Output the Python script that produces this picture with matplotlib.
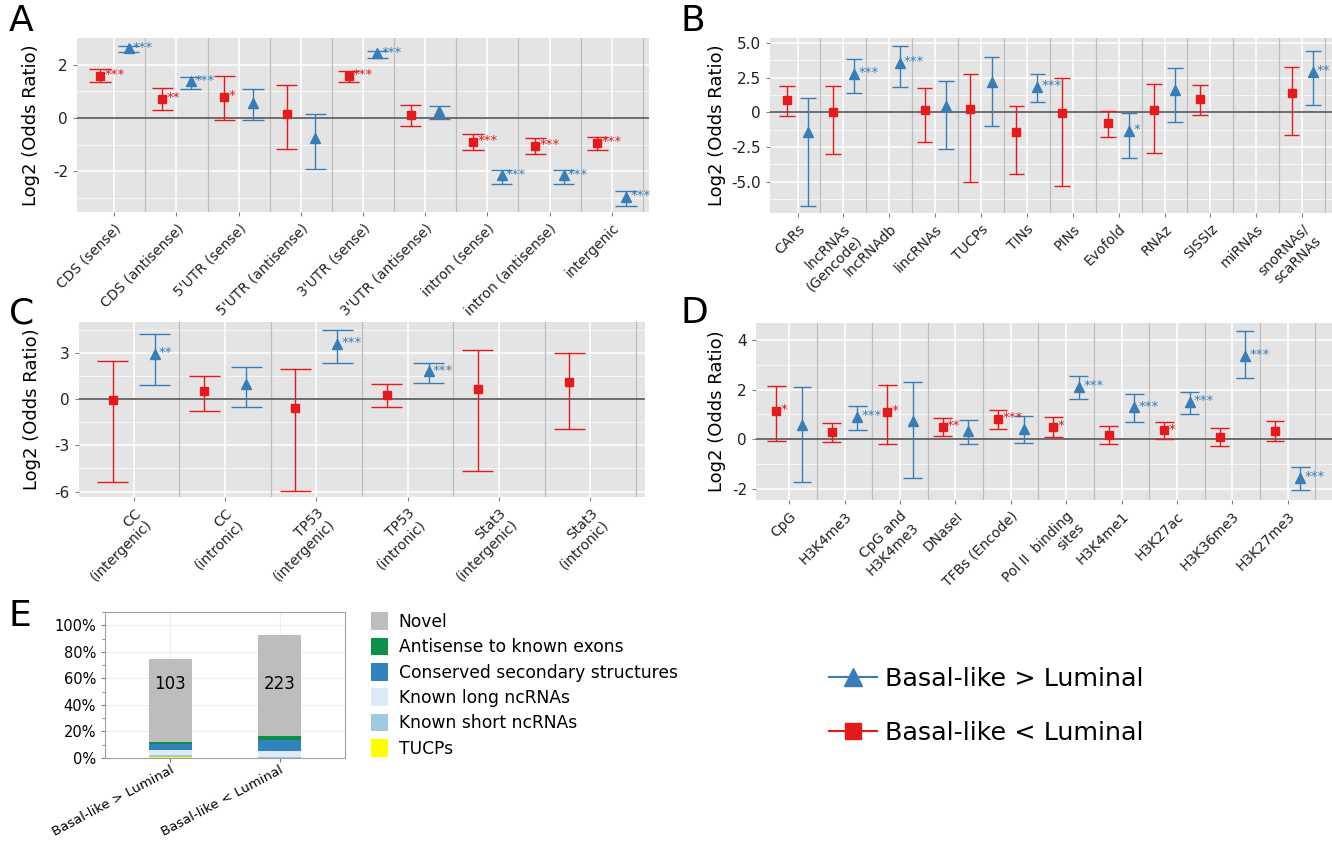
import matplotlib
matplotlib.use("Agg")
import matplotlib.pyplot as plt
import numpy as np
from matplotlib.lines import Line2D
from matplotlib.patches import Patch
from matplotlib.ticker import MultipleLocator

plt.rcParams['axes.unicode_minus'] = False
plt.rcParams['font.family'] = ['DejaVu Sans']

RED = '#E41A1C'
BLUE = '#377EB8'
NA = np.nan

# ---- panel A: genomic location
A_labels = ["CDS (sense)", "CDS (antisense)", "5'UTR (sense)", "5'UTR (antisense)",
            "3'UTR (sense)", "3'UTR (antisense)", "intron (sense)", "intron (antisense)",
            "intergenic"]
A_red = [1.57, 0.71, 0.79, 0.16, 1.57, 0.12, -0.90, -1.05, -0.95]
A_red_lo = [1.33, 0.28, -0.08, -1.15, 1.35, -0.29, -1.19, -1.34, -1.19]
A_red_hi = [1.82, 1.14, 1.57, 1.23, 1.77, 0.50, -0.61, -0.75, -0.71]
A_red_sig = ['***', '**', '*', '', '***', '', '***', '***', '***']
A_blue = [2.61, 1.37, 0.56, -0.75, 2.42, 0.25, -2.16, -2.16, -2.97]
A_blue_lo = [2.46, 1.09, -0.06, -1.93, 2.26, -0.03, -2.47, -2.47, -3.30]
A_blue_hi = [2.71, 1.54, 1.07, 0.13, 2.50, 0.45, -1.94, -1.94, -2.75]
A_blue_sig = ['***', '***', '', '', '***', '', '***', '***', '***']

# ---- panel B: annotations
B_labels = ["CARs", "lncRNAs\n(Gencode)", "lncRNAdb", "lincRNAs", "TUCPs", "TINs", "PINs",
            "Evofold", "RNAz", "SISSIz", "miRNAs", "snoRNAs/\nscaRNAs"]
B_red = [0.91, 0.0, NA, 0.14, 0.22, -1.44, -0.05, -0.77, 0.14, 0.96, NA, 1.37]
B_red_lo = [-0.24, -3.0, NA, -2.14, -5.05, -4.42, -5.34, -1.75, -2.91, -0.19, NA, -1.66]
B_red_hi = [1.88, 1.90, NA, 1.73, 2.74, 0.43, 2.48, 0.10, 2.02, 1.95, NA, 3.25]
B_red_sig = ['', '', '', '', '', '', '', '', '', '', '', '']
B_blue = [-1.44, 2.79, 3.56, 0.43, 2.16, 1.85, NA, -1.37, 1.63, NA, NA, 2.88]
B_blue_lo = [-6.78, 1.37, 1.80, -2.64, -0.99, 0.72, NA, -3.29, -0.72, NA, NA, 0.50]
B_blue_hi = [1.01, 3.82, 4.74, 2.28, 3.99, 2.76, NA, -0.05, 3.17, NA, NA, 4.40]
B_blue_sig = ['', '***', '***', '', '', '***', '', '*', '', '', '', '**']

# ---- panel C: transcription factor binding
C_labels = ["CC\n(intergenic)", "CC\n(intronic)", "TP53\n(intergenic)", "TP53\n(intronic)",
            "Stat3\n(intergenic)", "Stat3\n(intronic)"]
C_red = [-0.04, 0.50, -0.59, 0.26, 0.68, 1.11]
C_red_lo = [-5.38, -0.74, -5.97, -0.50, -4.68, -1.96]
C_red_hi = [2.48, 1.50, 1.92, 0.96, 3.18, 2.96]
C_red_sig = ['', '', '', '', '', '']
C_blue = [2.90, 0.98, 3.55, 1.79, NA, NA]
C_blue_lo = [0.94, -0.54, 2.33, 1.05, NA, NA]
C_blue_hi = [4.25, 2.07, 4.47, 2.35, NA, NA]
C_blue_sig = ['**', '', '***', '***', '', '']

# ---- panel D: chromatin marks
D_labels = ["CpG", "H3K4me3", "CpG and\nH3K4me3", "DNaseI", "TFBs (Encode)",
            "Pol II  binding\nsites", "H3K4me1", "H3K27ac", "H3K36me3", "H3K27me3"]
D_red = [1.15, 0.28, 1.11, 0.50, 0.80, 0.48, 0.17, 0.35, 0.08, 0.31]
D_red_lo = [-0.08, -0.11, -0.21, 0.12, 0.42, 0.08, -0.19, 0.0, -0.26, -0.08]
D_red_hi = [2.16, 0.67, 2.19, 0.86, 1.17, 0.89, 0.54, 0.71, 0.44, 0.75]
D_red_sig = ['*', '', '*', '**', '***', '*', '', '*', '', '']
D_blue = [0.58, 0.90, 0.74, 0.32, 0.42, 2.12, 1.28, 1.49, 3.37, -1.56]
D_blue_lo = [-1.73, 0.36, -1.58, -0.19, -0.15, 1.62, 0.68, 1.00, 2.46, -2.05]
D_blue_hi = [2.12, 1.33, 2.30, 0.79, 0.93, 2.54, 1.84, 1.92, 4.36, -1.14]
D_blue_sig = ['', '***', '', '', '', '***', '***', '***', '***', '***']

# ---- panel E: composition (%)
E_groups = ["Basal-like > Luminal", "Basal-like < Luminal"]
E_counts = ["103", "223"]
E_classes = ["TUCPs", "Known short ncRNAs", "Known long ncRNAs",
             "Conserved secondary structures", "Antisense to known exons", "Novel"]
E_values = {
    "TUCPs": [0.6, 0.1],
    "Known short ncRNAs": [1.8, 0.4],
    "Known long ncRNAs": [3.9, 4.5],
    "Conserved secondary structures": [4.3, 8.8],
    "Antisense to known exons": [1.2, 2.7],
    "Novel": [63.0, 76.1],
}
E_colors = {
    "TUCPs": '#FFFF00',
    "Known short ncRNAs": '#9ECAE1',
    "Known long ncRNAs": '#DEEBF7',
    "Conserved secondary structures": '#3182BD',
    "Antisense to known exons": '#0B9047',
    "Novel": '#BDBDBD',
}


def draw_series(ax, xs, vals, lo, hi, sig, color, marker, ms):
    cap = 0.17
    for x, v, l, h, s in zip(xs, vals, lo, hi, sig):
        if np.isnan(v):
            continue
        ax.vlines(x, l, h, color=color, lw=1.0, zorder=3)
        ax.hlines([l, h], x - cap, x + cap, color=color, lw=1.0, zorder=3)
        ax.plot(x, v, marker=marker, color=color, ms=ms, ls='none', zorder=4)
        if s:
            ax.annotate(s, (x, v), xytext=(3, 1), textcoords='offset points',
                        color=color, fontsize=9.5, ha='left', va='center', zorder=5,
                        annotation_clip=False)


def or_panel(rect, labels, red, red_lo, red_hi, red_sig, blue, blue_lo, blue_hi, blue_sig,
             ylim, yticks, yticklabels, xmax=None, labelpad=4):
    ax = fig.add_axes(rect)
    ax.set_facecolor('#E4E4E4')
    n = len(labels)
    x = np.arange(n)
    ax.set_xlim(-0.6, xmax if xmax is not None else n - 0.4)
    ax.set_ylim(*ylim)
    ax.set_yticks(yticks)
    ax.set_yticklabels(yticklabels, fontsize=11)
    step = yticks[1] - yticks[0]
    for m in np.arange(yticks[0] - step / 2, ylim[1], step):
        ax.axhline(m, color='white', lw=0.5, zorder=0)
    for t in yticks:
        ax.axhline(t, color='white', lw=1.1, zorder=0)
    for xi in x:
        ax.axvline(xi, color='white', lw=1.1, zorder=0)
    for xi in x + 0.5:
        ax.axvline(xi, color='#BDBDBD', lw=0.9, zorder=1)
    ax.axhline(0, color='#555555', lw=1.2, zorder=2)
    draw_series(ax, x - 0.23, red, red_lo, red_hi, red_sig, RED, 's', 5.5)
    draw_series(ax, x + 0.23, blue, blue_lo, blue_hi, blue_sig, BLUE, '^', 6.5)
    ax.set_xticks(x)
    ax.set_xticklabels(labels, rotation=45, ha='right', rotation_mode='anchor', fontsize=10)
    for sp in ax.spines.values():
        sp.set_visible(False)
    ax.tick_params(axis='both', length=3, color='#7F7F7F', labelcolor='#222222')
    ax.set_ylabel('Log2 (Odds Ratio)', fontsize=13, labelpad=labelpad)
    return ax


fig = plt.figure(figsize=(13.32, 8.41), dpi=100)
W, H = 1332.0, 841.0


def rect(l, t, r, b):
    return [l / W, 1 - b / H, (r - l) / W, (b - t) / H]


axA = or_panel(rect(77, 38, 649, 212), A_labels, A_red, A_red_lo, A_red_hi, A_red_sig,
               A_blue, A_blue_lo, A_blue_hi, A_blue_sig,
               (-3.53, 3.0), [-2, 0, 2], ['-2', '0', '2'], labelpad=9)
axB = or_panel(rect(770, 38, 1332, 213), B_labels, B_red, B_red_lo, B_red_hi, B_red_sig,
               B_blue, B_blue_lo, B_blue_hi, B_blue_sig,
               (-7.25, 5.35), [-5, -2.5, 0, 2.5, 5], ['-5.0', '-2.5', '0', '2.5', '5.0'],
               xmax=11.65)
axC = or_panel(rect(79, 322, 645, 497), C_labels, C_red, C_red_lo, C_red_hi, C_red_sig,
               C_blue, C_blue_lo, C_blue_hi, C_blue_sig,
               (-6.35, 5.0), [-6, -3, 0, 3], ['-6', '-3', '0', '3'], labelpad=10)
axD = or_panel(rect(756, 323, 1332, 500), D_labels, D_red, D_red_lo, D_red_hi, D_red_sig,
               D_blue, D_blue_lo, D_blue_hi, D_blue_sig,
               (-2.45, 4.68), [-2, 0, 2, 4], ['-2', '0', '2', '4'], xmax=9.8)

# ---- panel E
axE = fig.add_axes(rect(105, 612, 345, 758))
xe = np.arange(len(E_groups))
bottom = np.zeros(len(E_groups))
for cls in E_classes:
    vals = np.array(E_values[cls])
    axE.bar(xe, vals, width=0.4, bottom=bottom, color=E_colors[cls], zorder=2)
    bottom += vals
for xi, c in zip(xe, E_counts):
    axE.text(xi, 56, c, ha='center', va='center', fontsize=12, zorder=3)
axE.set_xlim(-0.6, 1.6)
axE.set_ylim(0, 110)
axE.set_yticks(np.arange(0, 101, 20))
axE.set_yticklabels([f'{v}%' for v in range(0, 101, 20)], fontsize=10.5)
axE.yaxis.set_minor_locator(MultipleLocator(10))
axE.set_xticks(xe)
axE.set_xticklabels(E_groups, rotation=28, ha='right', rotation_mode='anchor', fontsize=9.5)
axE.grid(True, color='#EDEDED', lw=0.8, zorder=0)
axE.set_axisbelow(True)
for sp in axE.spines.values():
    sp.set_color('#A0A0A0')
axE.tick_params(axis='both', which='both', length=3, color='#777777')
axE.tick_params(axis='x', pad=1)
axE.tick_params(axis='y', which='minor', length=2)

legE = [Patch(facecolor=E_colors[c], edgecolor='none', label=c) for c in E_classes[::-1]]
fig.legend(handles=legE, loc='upper left', bbox_to_anchor=(356 / W, 1 - 597 / H),
           frameon=False, fontsize=12.3, handlelength=1.0, handleheight=1.2,
           labelspacing=0.4, handletextpad=0.6)

# ---- main legend
legM = [Line2D([0], [0], color=BLUE, marker='^', ms=13, lw=1.5, label='Basal-like > Luminal'),
        Line2D([0], [0], color=RED, marker='s', ms=12, lw=1.5, label='Basal-like < Luminal')]
fig.legend(handles=legM, loc='center', bbox_to_anchor=(986 / W, 1 - 706 / H), frameon=False,
           fontsize=18.3, handlelength=1.9, labelspacing=1.2, handletextpad=0.3)

# panel letters
for letter, (px, py) in zip('ABCDE', [(9, 4), (680, 4), (9, 296), (680, 296), (9, 599)]):
    fig.text(px / W, 1 - py / H, letter, fontsize=26, va='top', ha='left')

fig.savefig('out.png', dpi=100)
